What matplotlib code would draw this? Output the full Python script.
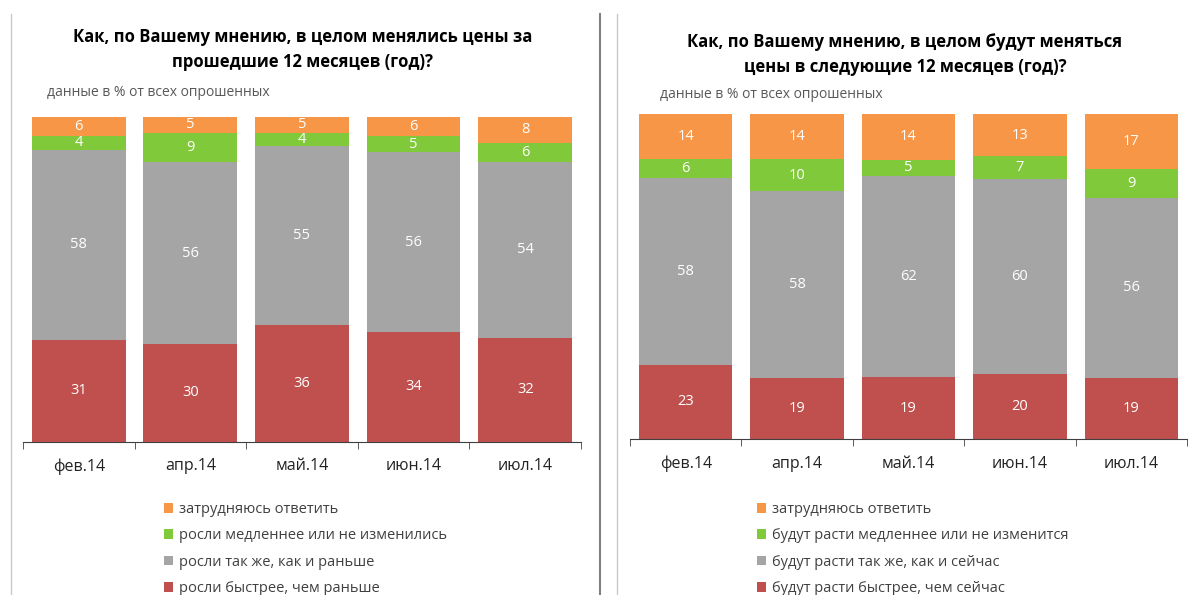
import matplotlib.pyplot as plt
import numpy as np
from matplotlib.lines import Line2D

plt.rcParams['font.family'] = ['Open Sans', 'DejaVu Sans']

months = ["фев.14", "апр.14", "май.14", "июн.14", "июл.14"]

# left chart: past 12 months
past_faster = [31, 30, 36, 34, 32]
past_same = [58, 56, 55, 56, 54]
past_slower = [4, 9, 4, 5, 6]
past_dk = [6, 5, 5, 6, 8]
past_labels = ["росли быстрее, чем раньше", "росли так же, как и раньше",
               "росли медленнее или не изменились", "затрудняюсь ответить"]

# right chart: next 12 months
next_faster = [23, 19, 19, 20, 19]
next_same = [58, 58, 62, 60, 56]
next_slower = [6, 10, 5, 7, 9]
next_dk = [14, 14, 14, 13, 17]
next_labels = ["будут расти быстрее, чем сейчас", "будут расти так же, как и сейчас",
               "будут расти медленнее или не изменится", "затрудняюсь ответить"]

colors = ["#C0504D", "#A5A5A5", "#80C93A", "#F79646"]


def stacked_100(ax, series, labels):
    data = np.array(series, dtype=float)
    data = data / data.sum(axis=0) * 100  # 100% stacked, like excel
    x = np.arange(len(months))
    bottom = np.zeros(len(months))
    handles = []
    for vals, raw, lab, c in zip(data, series, labels, colors):
        bars = ax.bar(x, vals, bottom=bottom, width=0.84, color=c,
                      edgecolor='none', label=lab)
        handles.append(bars)
        for xi, b, v, r in zip(x, bottom, vals, raw):
            ax.text(xi, b + v / 2, str(r), ha='center', va='center',
                    color='white', fontsize=10.5)
        bottom += vals
    ax.set_xlim(-0.5, len(months) - 0.5)
    ax.set_ylim(0, 100)
    ax.set_yticks([])
    for s in ['top', 'right', 'left']:
        ax.spines[s].set_visible(False)
    ax.spines['bottom'].set_color('#404040')
    ax.set_xticks(x)
    ax.set_xticklabels(months, fontsize=11.5, color='#222222')
    ax.tick_params(axis='x', which='major', length=0, pad=12)
    ax.set_xticks(np.arange(-0.5, len(months)), minor=True)
    ax.tick_params(axis='x', which='minor', length=5, color='#404040')
    return handles


fig = plt.figure(figsize=(11.95, 5.95), dpi=100)

ax1 = fig.add_axes([0.0192, 0.2577, 0.467, 0.5462])
h1 = stacked_100(ax1, [past_faster, past_same, past_slower, past_dk], past_labels)

ax2 = fig.add_axes([0.5272, 0.2622, 0.4661, 0.5462])
h2 = stacked_100(ax2, [next_faster, next_same, next_slower, next_dk], next_labels)

# titles and notes
fig.text(303 / 1195, 1 - 37 / 595, "Как, по Вашему мнению, в целом менялись цены за",
         ha='center', va='center', fontsize=12, fontweight='bold')
fig.text(303 / 1195, 1 - 62 / 595, "прошедшие 12 месяцев (год)?",
         ha='center', va='center', fontsize=12, fontweight='bold')
fig.text(47 / 1195, 1 - 93 / 595, "данные в % от всех опрошенных",
         ha='left', va='center', fontsize=10, color='#595959')

fig.text(905 / 1195, 1 - 42 / 595, "Как, по Вашему мнению, в целом будут меняться",
         ha='center', va='center', fontsize=12, fontweight='bold')
fig.text(905 / 1195, 1 - 67 / 595, "цены в следующие 12 месяцев (год)?",
         ha='center', va='center', fontsize=12, fontweight='bold')
fig.text(660 / 1195, 1 - 94 / 595, "данные в % от всех опрошенных",
         ha='left', va='center', fontsize=10, color='#595959')

# legends, reversed order like excel
for ax, h, xl in [(ax1, h1, 158), (ax2, h2, 751)]:
    leg = fig.legend(h[::-1], [b.get_label() for b in h[::-1]],
                     loc='upper left', bbox_to_anchor=(xl / 1195, 1 - 496 / 595),
                     frameon=False, fontsize=10.5, handlelength=0.65,
                     handleheight=0.65, handletextpad=0.4, labelspacing=0.78,
                     borderaxespad=0)
    for t in leg.get_texts():
        t.set_color('#404040')

# chart borders / separator
fig.add_artist(Line2D([11 / 1195, 11 / 1195], [0, 1 - 14 / 595], color='#C8C8C8', lw=1))
fig.add_artist(Line2D([600 / 1195, 600 / 1195], [0, 1 - 14 / 595], color='#808080', lw=1.5))
fig.add_artist(Line2D([617 / 1195, 617 / 1195], [0, 1 - 14 / 595], color='#C8C8C8', lw=1))

fig.savefig("out.png", dpi=100)
